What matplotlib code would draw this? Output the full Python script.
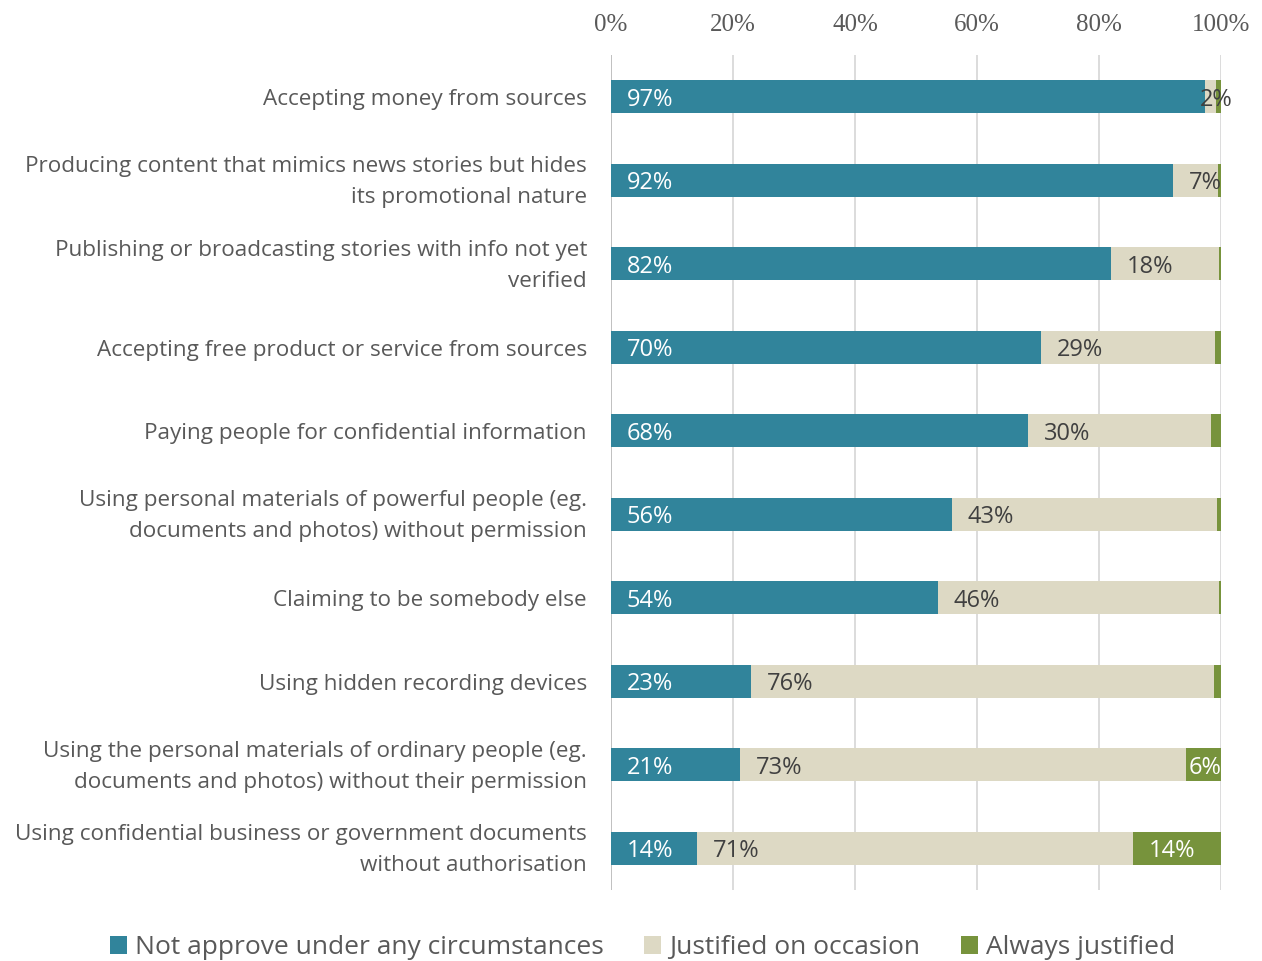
import matplotlib.pyplot as plt
import matplotlib.transforms as mtransforms
import numpy as np

# survey items, top to bottom
categories = [
    "Accepting money from sources",
    "Producing content that mimics news stories but hides\nits promotional nature",
    "Publishing or broadcasting stories with info not yet\nverified",
    "Accepting free product or service from sources",
    "Paying people for confidential information",
    "Using personal materials of powerful people (eg.\ndocuments and photos) without permission",
    "Claiming to be somebody else",
    "Using hidden recording devices",
    "Using the personal materials of ordinary people (eg.\ndocuments and photos) without their permission",
    "Using confidential business or government documents\nwithout authorisation",
]
not_approve = [97.4, 92.1, 81.9, 70.5, 68.3, 55.9, 53.6, 23.0, 21.1, 14.1]
occasion = [1.8, 7.4, 17.7, 28.6, 30.0, 43.4, 46.1, 75.9, 73.2, 71.49]
always = [0.8, 0.5, 0.4, 0.9, 1.7, 0.7, 0.3, 1.1, 5.7, 14.41]
series_names = ["Not approve under any circumstances", "Justified on occasion", "Always justified"]
colors = ["#31849B", "#DDD9C4", "#77933C"]
label_colors = ["white", "#404040", "white"]

plt.rcParams['font.family'] = ['Open Sans', 'DejaVu Sans']

fig = plt.figure(figsize=(12.62, 9.61), dpi=100)
ax = fig.add_axes([0.4842, 0.0739, 0.4833, 0.8689])

y = np.arange(len(categories))
series = [not_approve, occasion, always]
left = np.zeros(len(categories))
for s, vals in enumerate(series):
    vals = np.array(vals)
    ax.barh(y, vals, left=left, height=0.4, color=colors[s], label=series_names[s], zorder=3)
    for i in range(len(vals)):
        if round(vals[i]) < 2 or (s == 2 and vals[i] < 5):
            continue
        txt = "%d%%" % round(vals[i])
        x = left[i] + 2.6
        w = 5.3 if len(txt) == 2 else 7.6
        end = max(left[i] + vals[i], 100)
        if s == 0:
            end = 200
        if x + w > end:
            x = end - w
        if i == 0 and s == 1:
            x = 96.6
        ax.text(x, i + 0.035, txt, va='center', ha='left', fontsize=17, color=label_colors[s], zorder=4)
    left = left + vals

ax.set_xlim(0, 100)
ax.set_ylim(len(categories) - 0.5, -0.5)
ax.set_yticks([])
# category labels, two-line ones sit a little higher than the bar centre
trans = mtransforms.blended_transform_factory(ax.transAxes, ax.transData)
for i, cat in enumerate(categories):
    dy = 0.024 if "\n" in cat else 0.036
    ax.text(-0.0395, i + dy, cat, transform=trans, ha='right', va='center', fontsize=16.2,
            color='#595959', linespacing=1.65, multialignment='right')
ax.xaxis.tick_top()
ax.set_xticks(np.arange(0, 101, 20))
ax.set_xticklabels(["%d%%" % v for v in range(0, 101, 20)], family='Liberation Serif', fontsize=18, color='#595959')
ax.tick_params(axis='x', length=0, pad=14)
ax.grid(axis='x', color='#D9D9D9', linewidth=1.3, zorder=0)
for sp in ax.spines.values():
    sp.set_visible(False)
ax.axvline(0, color='#BFBFBF', linewidth=1.3, zorder=2)

ax.legend(loc='center', bbox_to_anchor=(0.0515, -0.069), ncol=3, frameon=False, fontsize=19,
          labelcolor='#595959', handlelength=0.65, handleheight=0.65, handletextpad=0.3,
          columnspacing=1.55, bbox_transform=ax.transAxes)

fig.savefig("out.png", dpi=100)
